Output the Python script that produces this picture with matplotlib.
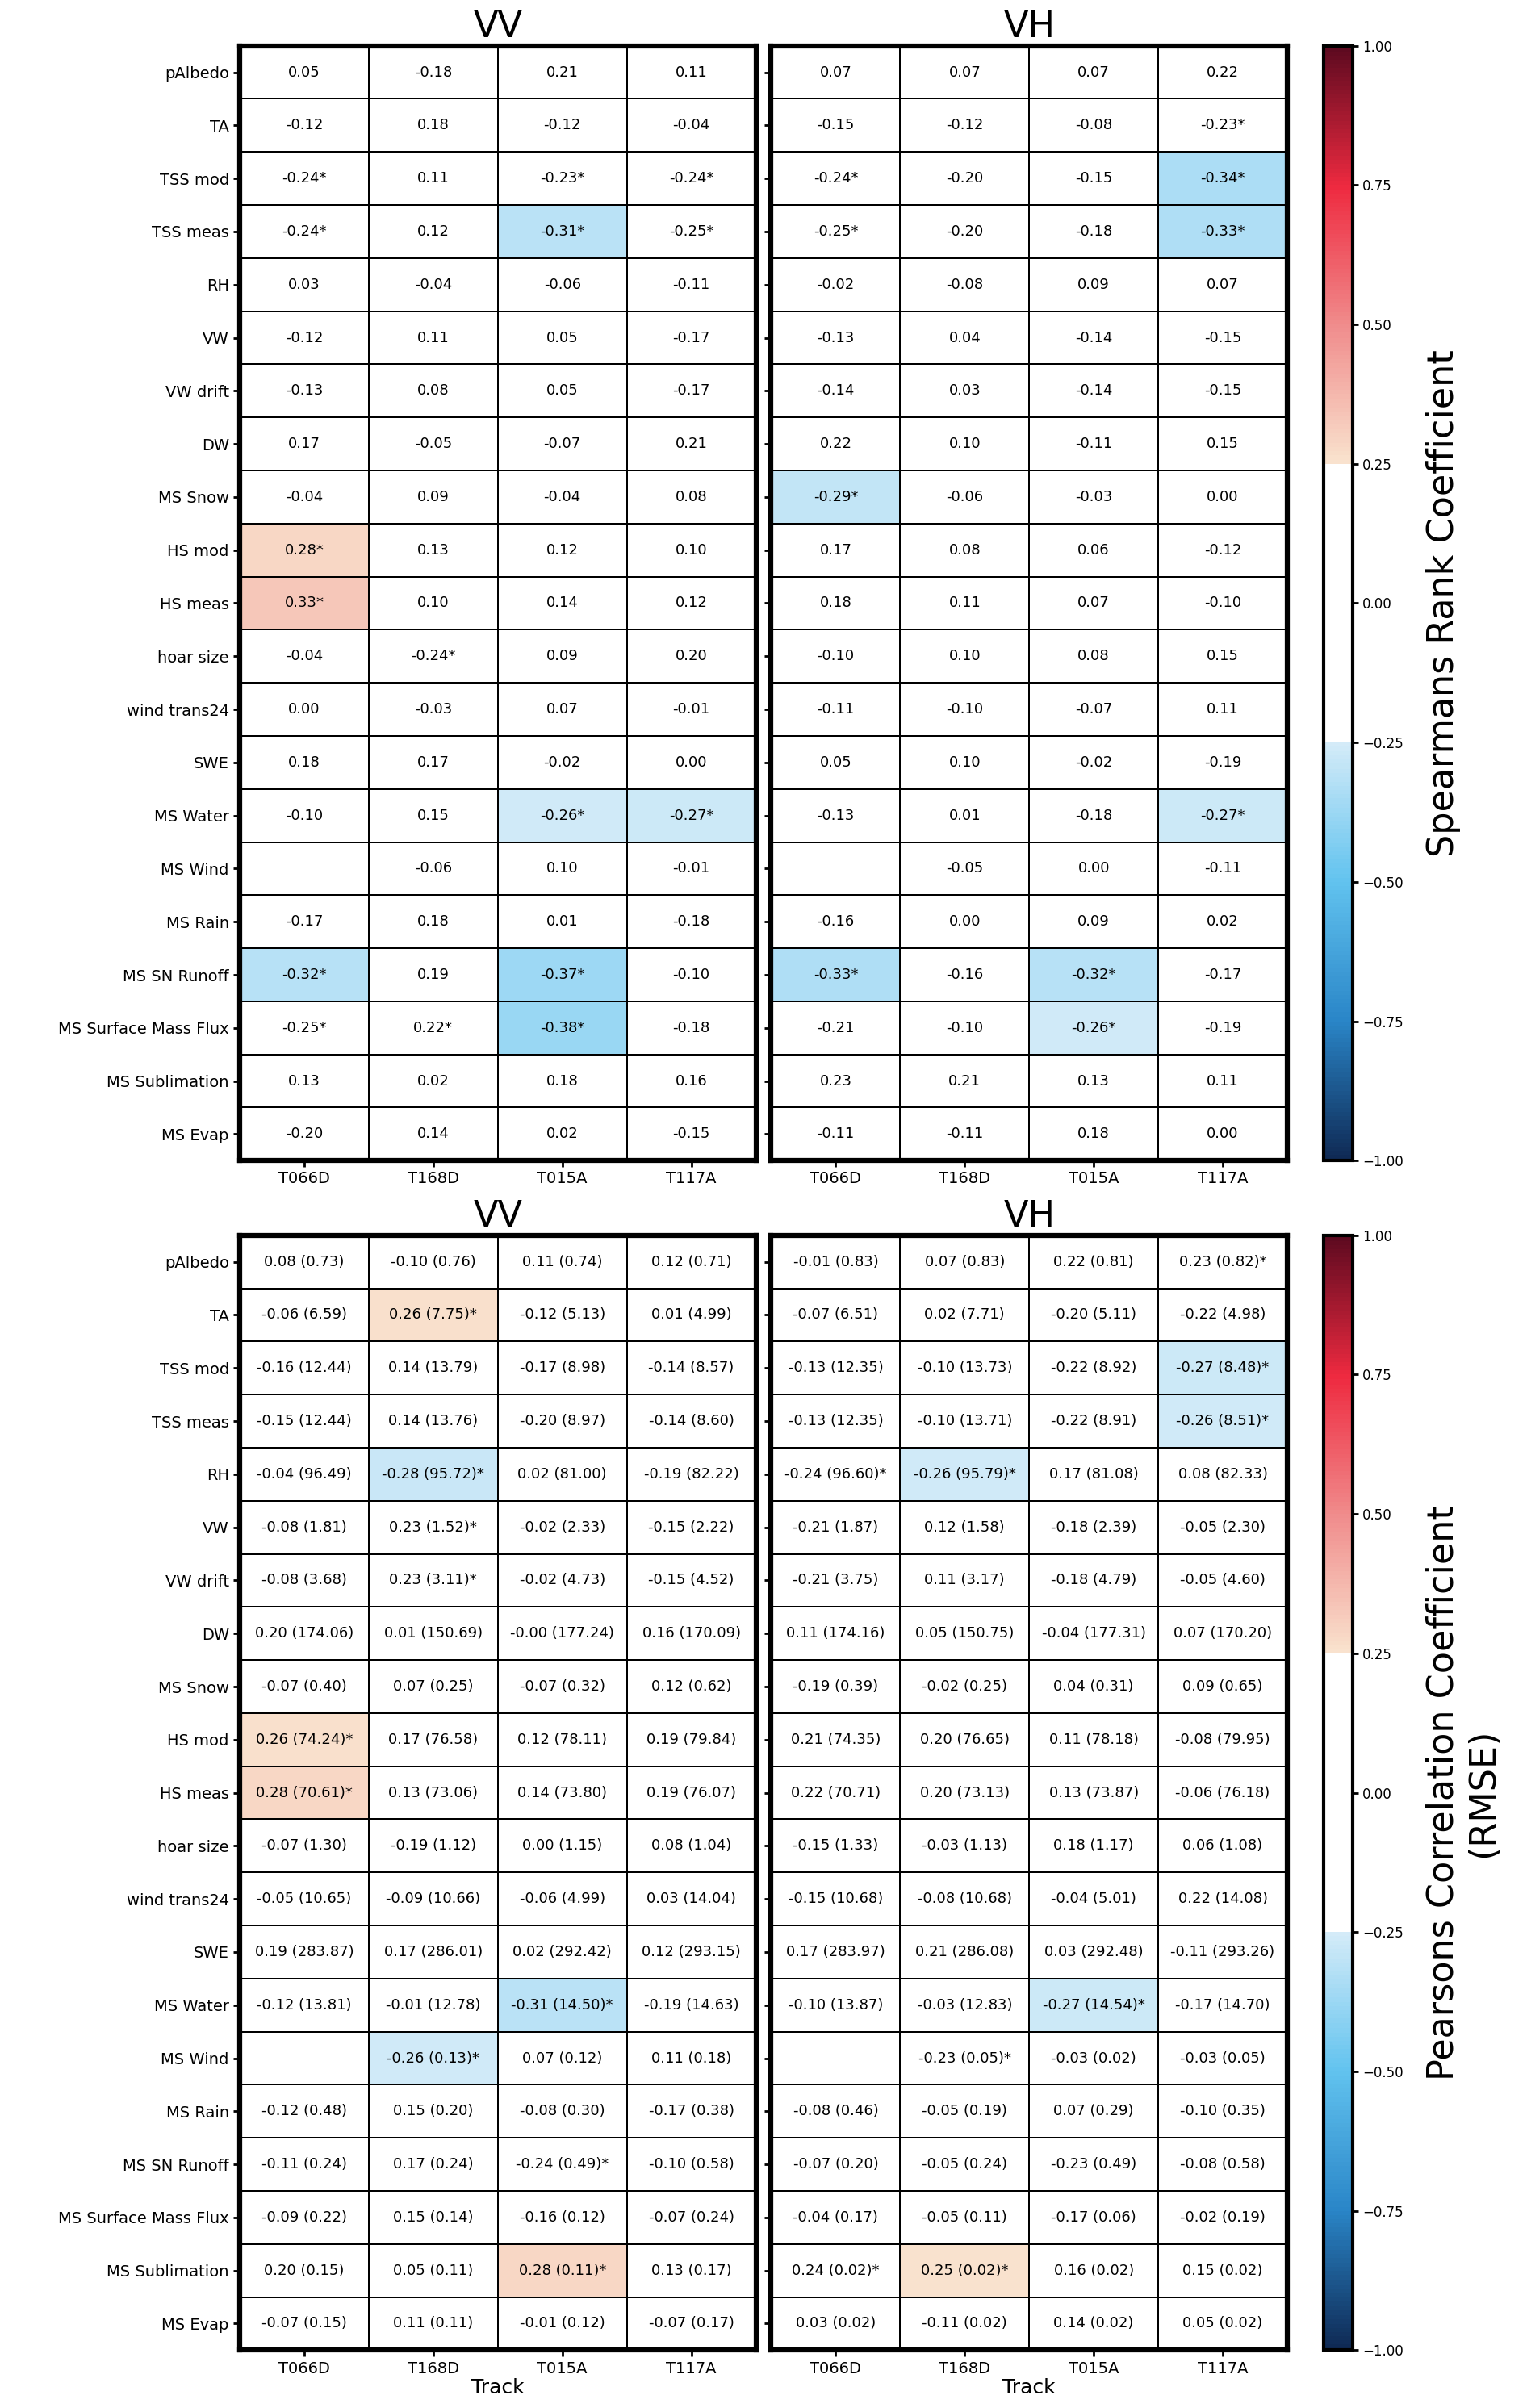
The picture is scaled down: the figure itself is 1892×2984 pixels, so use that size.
import numpy as np
import matplotlib
matplotlib.use('Agg')
import matplotlib.pyplot as plt
from matplotlib.colors import LinearSegmentedColormap, ListedColormap

rows = ['pAlbedo', 'TA', 'TSS mod', 'TSS meas', 'RH', 'VW', 'VW drift', 'DW', 'MS Snow',
        'HS mod', 'HS meas', 'hoar size', 'wind trans24', 'SWE', 'MS Water', 'MS Wind',
        'MS Rain', 'MS SN Runoff', 'MS Surface Mass Flux', 'MS Sublimation', 'MS Evap']
tracks = ['T066D', 'T168D', 'T015A', 'T117A']

# Spearman, VV / VH (cell texts, '*' = significant)
spear_vv = [
    ['0.05', '-0.18', '0.21', '0.11'],
    ['-0.12', '0.18', '-0.12', '-0.04'],
    ['-0.24*', '0.11', '-0.23*', '-0.24*'],
    ['-0.24*', '0.12', '-0.31*', '-0.25*'],
    ['0.03', '-0.04', '-0.06', '-0.11'],
    ['-0.12', '0.11', '0.05', '-0.17'],
    ['-0.13', '0.08', '0.05', '-0.17'],
    ['0.17', '-0.05', '-0.07', '0.21'],
    ['-0.04', '0.09', '-0.04', '0.08'],
    ['0.28*', '0.13', '0.12', '0.10'],
    ['0.33*', '0.10', '0.14', '0.12'],
    ['-0.04', '-0.24*', '0.09', '0.20'],
    ['0.00', '-0.03', '0.07', '-0.01'],
    ['0.18', '0.17', '-0.02', '0.00'],
    ['-0.10', '0.15', '-0.26*', '-0.27*'],
    ['', '-0.06', '0.10', '-0.01'],
    ['-0.17', '0.18', '0.01', '-0.18'],
    ['-0.32*', '0.19', '-0.37*', '-0.10'],
    ['-0.25*', '0.22*', '-0.38*', '-0.18'],
    ['0.13', '0.02', '0.18', '0.16'],
    ['-0.20', '0.14', '0.02', '-0.15'],
]
spear_vh = [
    ['0.07', '0.07', '0.07', '0.22'],
    ['-0.15', '-0.12', '-0.08', '-0.23*'],
    ['-0.24*', '-0.20', '-0.15', '-0.34*'],
    ['-0.25*', '-0.20', '-0.18', '-0.33*'],
    ['-0.02', '-0.08', '0.09', '0.07'],
    ['-0.13', '0.04', '-0.14', '-0.15'],
    ['-0.14', '0.03', '-0.14', '-0.15'],
    ['0.22', '0.10', '-0.11', '0.15'],
    ['-0.29*', '-0.06', '-0.03', '0.00'],
    ['0.17', '0.08', '0.06', '-0.12'],
    ['0.18', '0.11', '0.07', '-0.10'],
    ['-0.10', '0.10', '0.08', '0.15'],
    ['-0.11', '-0.10', '-0.07', '0.11'],
    ['0.05', '0.10', '-0.02', '-0.19'],
    ['-0.13', '0.01', '-0.18', '-0.27*'],
    ['', '-0.05', '0.00', '-0.11'],
    ['-0.16', '0.00', '0.09', '0.02'],
    ['-0.33*', '-0.16', '-0.32*', '-0.17'],
    ['-0.21', '-0.10', '-0.26*', '-0.19'],
    ['0.23', '0.21', '0.13', '0.11'],
    ['-0.11', '-0.11', '0.18', '0.00'],
]
# Pearson (RMSE), VV / VH
pear_vv = [
    ['0.08 (0.73)', '-0.10 (0.76)', '0.11 (0.74)', '0.12 (0.71)'],
    ['-0.06 (6.59)', '0.26 (7.75)*', '-0.12 (5.13)', '0.01 (4.99)'],
    ['-0.16 (12.44)', '0.14 (13.79)', '-0.17 (8.98)', '-0.14 (8.57)'],
    ['-0.15 (12.44)', '0.14 (13.76)', '-0.20 (8.97)', '-0.14 (8.60)'],
    ['-0.04 (96.49)', '-0.28 (95.72)*', '0.02 (81.00)', '-0.19 (82.22)'],
    ['-0.08 (1.81)', '0.23 (1.52)*', '-0.02 (2.33)', '-0.15 (2.22)'],
    ['-0.08 (3.68)', '0.23 (3.11)*', '-0.02 (4.73)', '-0.15 (4.52)'],
    ['0.20 (174.06)', '0.01 (150.69)', '-0.00 (177.24)', '0.16 (170.09)'],
    ['-0.07 (0.40)', '0.07 (0.25)', '-0.07 (0.32)', '0.12 (0.62)'],
    ['0.26 (74.24)*', '0.17 (76.58)', '0.12 (78.11)', '0.19 (79.84)'],
    ['0.28 (70.61)*', '0.13 (73.06)', '0.14 (73.80)', '0.19 (76.07)'],
    ['-0.07 (1.30)', '-0.19 (1.12)', '0.00 (1.15)', '0.08 (1.04)'],
    ['-0.05 (10.65)', '-0.09 (10.66)', '-0.06 (4.99)', '0.03 (14.04)'],
    ['0.19 (283.87)', '0.17 (286.01)', '0.02 (292.42)', '0.12 (293.15)'],
    ['-0.12 (13.81)', '-0.01 (12.78)', '-0.31 (14.50)*', '-0.19 (14.63)'],
    ['', '-0.26 (0.13)*', '0.07 (0.12)', '0.11 (0.18)'],
    ['-0.12 (0.48)', '0.15 (0.20)', '-0.08 (0.30)', '-0.17 (0.38)'],
    ['-0.11 (0.24)', '0.17 (0.24)', '-0.24 (0.49)*', '-0.10 (0.58)'],
    ['-0.09 (0.22)', '0.15 (0.14)', '-0.16 (0.12)', '-0.07 (0.24)'],
    ['0.20 (0.15)', '0.05 (0.11)', '0.28 (0.11)*', '0.13 (0.17)'],
    ['-0.07 (0.15)', '0.11 (0.11)', '-0.01 (0.12)', '-0.07 (0.17)'],
]
pear_vh = [
    ['-0.01 (0.83)', '0.07 (0.83)', '0.22 (0.81)', '0.23 (0.82)*'],
    ['-0.07 (6.51)', '0.02 (7.71)', '-0.20 (5.11)', '-0.22 (4.98)'],
    ['-0.13 (12.35)', '-0.10 (13.73)', '-0.22 (8.92)', '-0.27 (8.48)*'],
    ['-0.13 (12.35)', '-0.10 (13.71)', '-0.22 (8.91)', '-0.26 (8.51)*'],
    ['-0.24 (96.60)*', '-0.26 (95.79)*', '0.17 (81.08)', '0.08 (82.33)'],
    ['-0.21 (1.87)', '0.12 (1.58)', '-0.18 (2.39)', '-0.05 (2.30)'],
    ['-0.21 (3.75)', '0.11 (3.17)', '-0.18 (4.79)', '-0.05 (4.60)'],
    ['0.11 (174.16)', '0.05 (150.75)', '-0.04 (177.31)', '0.07 (170.20)'],
    ['-0.19 (0.39)', '-0.02 (0.25)', '0.04 (0.31)', '0.09 (0.65)'],
    ['0.21 (74.35)', '0.20 (76.65)', '0.11 (78.18)', '-0.08 (79.95)'],
    ['0.22 (70.71)', '0.20 (73.13)', '0.13 (73.87)', '-0.06 (76.18)'],
    ['-0.15 (1.33)', '-0.03 (1.13)', '0.18 (1.17)', '0.06 (1.08)'],
    ['-0.15 (10.68)', '-0.08 (10.68)', '-0.04 (5.01)', '0.22 (14.08)'],
    ['0.17 (283.97)', '0.21 (286.08)', '0.03 (292.48)', '-0.11 (293.26)'],
    ['-0.10 (13.87)', '-0.03 (12.83)', '-0.27 (14.54)*', '-0.17 (14.70)'],
    ['', '-0.23 (0.05)*', '-0.03 (0.02)', '-0.03 (0.05)'],
    ['-0.08 (0.46)', '-0.05 (0.19)', '0.07 (0.29)', '-0.10 (0.35)'],
    ['-0.07 (0.20)', '-0.05 (0.24)', '-0.23 (0.49)', '-0.08 (0.58)'],
    ['-0.04 (0.17)', '-0.05 (0.11)', '-0.17 (0.06)', '-0.02 (0.19)'],
    ['0.24 (0.02)*', '0.25 (0.02)*', '0.16 (0.02)', '0.15 (0.02)'],
    ['0.03 (0.02)', '-0.11 (0.02)', '0.14 (0.02)', '0.05 (0.02)'],
]

# colormap: white between -0.25 and 0.25
base = LinearSegmentedColormap.from_list('rb', [
    (0.0, '#0f2a55'), (0.125, '#2a86c8'), (0.25, '#62c3ef'), (0.375, '#d6ecf8'),
    (0.5, '#ffffff'),
    (0.625, '#f9e4cf'), (0.75, '#f08c8c'), (0.875, '#ee2a40'), (1.0, '#5e0a20')])
n = 800
cols = base(np.linspace(0, 1, n))
xs = np.linspace(-1, 1, n)
cols[np.abs(xs) < 0.2505] = [1, 1, 1, 1]
cmap = ListedColormap(cols)


def to_values(cells):
    v = np.full((len(cells), len(cells[0])), np.nan)
    for i, r in enumerate(cells):
        for j, t in enumerate(r):
            if t:
                v[i, j] = float(t.split()[0].rstrip('*'))
    return v


def heat(ax, cells, title, ylabels, xlabel=None):
    vals = to_values(cells)
    m = ax.pcolormesh(np.ma.masked_invalid(vals), cmap=cmap, vmin=-1, vmax=1,
                      edgecolors='black', linewidth=1.2)
    for i, r in enumerate(cells):
        for j, t in enumerate(r):
            ax.text(j + 0.5, i + 0.5, t, ha='center', va='center', fontsize=13)
    ax.set_xlim(0, 4)
    ax.set_ylim(len(cells), 0)
    ax.set_xticks(np.arange(4) + 0.5)
    ax.set_xticklabels(tracks, fontsize=14)
    ax.set_yticks(np.arange(len(cells)) + 0.5)
    if ylabels:
        ax.set_yticklabels(rows, fontsize=14)
    else:
        ax.set_yticklabels([])
        ax.tick_params(axis='y', length=0)
    ax.tick_params(width=2, length=6)
    for s in ax.spines.values():
        s.set_linewidth(4.5)
    ax.set_title(title, fontsize=32, pad=8)
    if xlabel:
        ax.set_xlabel(xlabel, fontsize=18, labelpad=2)
    return m


fig = plt.figure(figsize=(18.92, 29.84), dpi=100)

panels = [
    (0.518, spear_vv, spear_vh, 'Spearmans Rank Coefficient', None),
    (0.024, pear_vv, pear_vh, 'Pearsons Correlation Coefficient\n(RMSE)', 'Track'),
]
for y0, vv, vh, clabel, xl in panels:
    h = 0.463
    ax1 = fig.add_axes([0.157, y0, 0.338, h])
    ax2 = fig.add_axes([0.505, y0, 0.338, h])
    m = heat(ax1, vv, 'VV', True, xl)
    heat(ax2, vh, 'VH', False, xl)
    cax = fig.add_axes([0.867, y0, 0.019, h])
    cb = fig.colorbar(m, cax=cax, ticks=np.arange(-1, 1.01, 0.25))
    cb.ax.tick_params(labelsize=12, width=2, length=5)
    cb.ax.set_yticklabels([f'{t:.2f}'.replace('-', '\u2212') for t in np.arange(-1, 1.01, 0.25)])
    cb.outline.set_linewidth(3)
    cb.set_label(clabel, fontsize=32, labelpad=20)

fig.savefig('out.png', dpi=100)
